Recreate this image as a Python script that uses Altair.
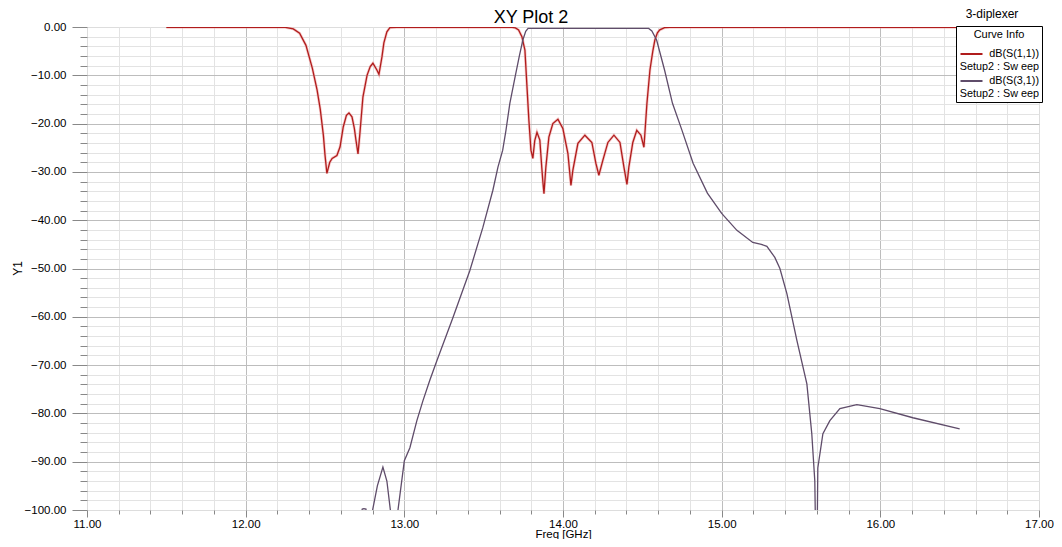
import altair as alt
import pandas as pd

# ---------------- data ----------------
series_names = ["dB(S(1,1))", "dB(S(3,1))"]
series_colors = ["#B01C1C", "#5F4C6A"]

s11_freq = [11.50, 12.00, 12.25, 12.30, 12.34, 12.38, 12.42, 12.45, 12.47, 12.49,
            12.50, 12.512, 12.53, 12.545, 12.575, 12.595, 12.615, 12.635, 12.651, 12.67,
            12.685, 12.695, 12.708, 12.72, 12.739, 12.765, 12.785, 12.802, 12.827, 12.84,
            12.859, 12.871, 12.89, 12.909, 12.95, 13.60, 13.68, 13.70, 13.72, 13.741,
            13.76, 13.773, 13.785, 13.798, 13.81, 13.822, 13.836, 13.854, 13.866, 13.873,
            13.88, 13.892, 13.911, 13.936, 13.968, 13.999, 14.031, 14.05, 14.062, 14.094,
            14.138, 14.182, 14.207, 14.226, 14.251, 14.283, 14.321, 14.359, 14.384, 14.403,
            14.415, 14.44, 14.465, 14.491, 14.51, 14.529, 14.548, 14.566, 14.579, 14.595,
            14.61, 14.64, 14.674, 15.00, 16.00, 16.50]
s11_db = [-0.05, -0.05, -0.08, -0.4, -1.3, -3.8, -8.5, -13.0, -17.0, -22.5,
          -26.5, -30.3, -28.0, -27.2, -26.6, -24.8, -20.7, -18.3, -17.8, -18.6,
          -21.0, -23.4, -26.3, -22.0, -14.5, -10.0, -8.2, -7.5, -8.9, -9.8,
          -6.2, -3.3, -1.0, -0.15, -0.05, -0.05, -0.08, -0.2, -0.6, -2.0,
          -4.8, -12.4, -19.3, -25.5, -27.2, -23.5, -21.8, -23.4, -29.0, -32.0,
          -34.5, -29.0, -22.8, -20.0, -19.1, -21.0, -26.2, -32.8, -29.7, -24.1,
          -22.4, -23.9, -28.2, -30.7, -27.6, -23.9, -22.4, -23.9, -29.0, -32.6,
          -29.0, -23.9, -21.4, -22.4, -24.9, -15.8, -8.9, -5.0, -2.7, -1.2,
          -0.6, -0.15, -0.05, -0.05, -0.05, -0.05]

s31_freq = [11.50, 12.00, 12.50, 12.70, 12.735, 12.745, 12.758, 12.78, 12.80, 12.83,
            12.865, 12.89, 12.912, 12.935, 12.96, 13.00, 13.035, 13.079, 13.117, 13.16,
            13.205, 13.306, 13.413, 13.495, 13.558, 13.59, 13.62, 13.64, 13.665, 13.70,
            13.725, 13.747, 13.765, 13.78, 14.00, 14.30, 14.54, 14.56, 14.59, 14.64,
            14.69, 14.75, 14.82, 14.91, 15.00, 15.096, 15.196, 15.25, 15.285, 15.335,
            15.367, 15.411, 15.474, 15.537, 15.568, 15.587, 15.598, 15.606, 15.638, 15.682,
            15.745, 15.852, 15.997, 16.205, 16.50]
s31_db = [-135.0, -128.0, -118.0, -104.0, -99.8, -99.7, -99.8, -106.0, -100.0, -95.0,
          -91.1, -94.0, -100.0, -115.0, -100.0, -89.8, -87.1, -81.5, -77.4, -73.2,
          -69.1, -60.2, -50.4, -41.5, -33.8, -29.0, -25.5, -21.5, -15.8, -10.0,
          -6.0, -2.7, -0.9, -0.3, -0.3, -0.3, -0.3, -0.8, -2.7, -8.9,
          -15.8, -21.4, -28.2, -34.4, -38.6, -42.1, -44.6, -45.0, -45.4, -47.7,
          -50.0, -55.2, -64.9, -73.9, -84.2, -94.0, -118.0, -91.3, -84.2, -81.5,
          -79.0, -78.2, -79.0, -80.9, -83.2]

x_tick_values = [round(11 + 0.2 * i, 1) for i in range(31)]
y_tick_values = [-2 * i for i in range(51)]

df = pd.concat([
    pd.DataFrame({"freq": s11_freq, "db": s11_db, "curve": series_names[0]}),
    pd.DataFrame({"freq": s31_freq, "db": s31_db, "curve": series_names[1]}),
], ignore_index=True)

FONT = "Liberation Sans"

x_major = "abs(datum.value - round(datum.value)) < 0.001"
x_edge = "datum.value < 11.001 || datum.value > 16.999"
y_major = "datum.value % 10 == 0"
y_edge = "datum.value == 0 || datum.value == -100"

x_axis = alt.Axis(
    values=x_tick_values, format=".2f",
    labelExpr=f"{x_major} ? datum.label : ''",
    title="Freq [GHz]", titleFontSize=11.5, titleFontWeight="normal",
    titleX=476, titleY=27, titleBaseline="alphabetic", titleAlign="center",
    labelFontSize=11.5, labelPadding=1, labelFlush=False, labelOverlap=False,
    tickSize={"condition": {"test": x_major, "value": 7}, "value": 4},
    gridColor={"condition": {"test": x_major, "value": "#BDBDBD"}, "value": "#E3E3E3"},
    gridOpacity={"condition": {"test": x_edge, "value": 0}, "value": 1},
    domain=False,
)
y_axis = alt.Axis(
    values=y_tick_values, format=".2f",
    labelExpr=f"{y_major} ? datum.label : ''",
    title="Y1", titleFontSize=12, titleFontWeight="normal",
    titleX=-70, titleY=241, titleAngle=270, titleBaseline="middle", titleAlign="center",
    labelFontSize=11.5, labelPadding=6, labelFlush=False, labelOverlap=False,
    tickSize={"condition": {"test": y_major, "value": 15}, "value": 7},
    gridColor={"condition": {"test": y_major, "value": "#BDBDBD"}, "value": "#E3E3E3"},
    gridOpacity={"condition": {"test": y_edge, "value": 0}, "value": 1},
    domain=False,
)

x_scale = alt.Scale(domain=[11, 17], nice=False, zero=False)
y_scale = alt.Scale(domain=[-100, 0], nice=False, zero=False)

legend = alt.Legend(
    orient="none", legendX=869, legendY=-1,
    title="Curve Info", titleAnchor="middle", titleFontSize=11, titleFontWeight="normal",
    titleFont=FONT, titleColor="black", titlePadding=8, titleBaseline="top",
    symbolType="M-2.2,0L2.2,0", symbolSize=100, symbolStrokeWidth=2, symbolOffset=6.5,
    labelFont=FONT, labelFontSize=10.8, labelColor="black", labelAlign="right",
    labelBaseline="middle", labelOffset=61.5,
    labelExpr="[datum.label, 'Setup2 : Sw eep']",
    strokeColor="black", fillColor="white", padding=3, rowPadding=3,
)

# soft halo under the S(1,1) trace (anti-aliased look of the original)
halo = alt.Chart(df).transform_filter(
    alt.datum.curve == series_names[0]
).mark_line(color="#EFA0A0", strokeWidth=2.8, opacity=0.55, clip=True).encode(
    x=alt.X("freq:Q", scale=x_scale, axis=x_axis),
    y=alt.Y("db:Q", scale=y_scale, axis=y_axis),
)

lines = alt.Chart(df).mark_line(strokeWidth=1.3, clip=True).encode(
    x=alt.X("freq:Q", scale=x_scale, axis=x_axis),
    y=alt.Y("db:Q", scale=y_scale, axis=y_axis),
    color=alt.Color("curve:N", scale=alt.Scale(domain=series_names, range=series_colors),
                    legend=legend),
)

project = alt.Chart(pd.DataFrame({"t": ["3-diplexer"]})).mark_text(
    font=FONT, fontSize=12, color="black", align="center", baseline="middle"
).encode(text="t:N", x=alt.value(905), y=alt.value(-13))

chart = alt.layer(halo, lines, project).properties(
    width=952, height=483,
    autosize=alt.AutoSizeParams(type="none"),
    padding={"left": 79, "top": 19, "right": 15, "bottom": 29},
    title=alt.TitleParams("XY Plot 2", font=FONT, fontSize=18, fontWeight="normal",
                          color="black", anchor="middle", frame="group", dx=-32,
                          baseline="alphabetic", offset=0, dy=33),
).configure_view(stroke="black", strokeWidth=1).configure_axis(
    labelFont=FONT, titleFont=FONT, labelColor="black", titleColor="black",
    tickColor="black", tickWidth=1, gridWidth=1,
).configure(background="white")

chart.save("out.html", embed_options={"renderer": "svg", "actions": False})
